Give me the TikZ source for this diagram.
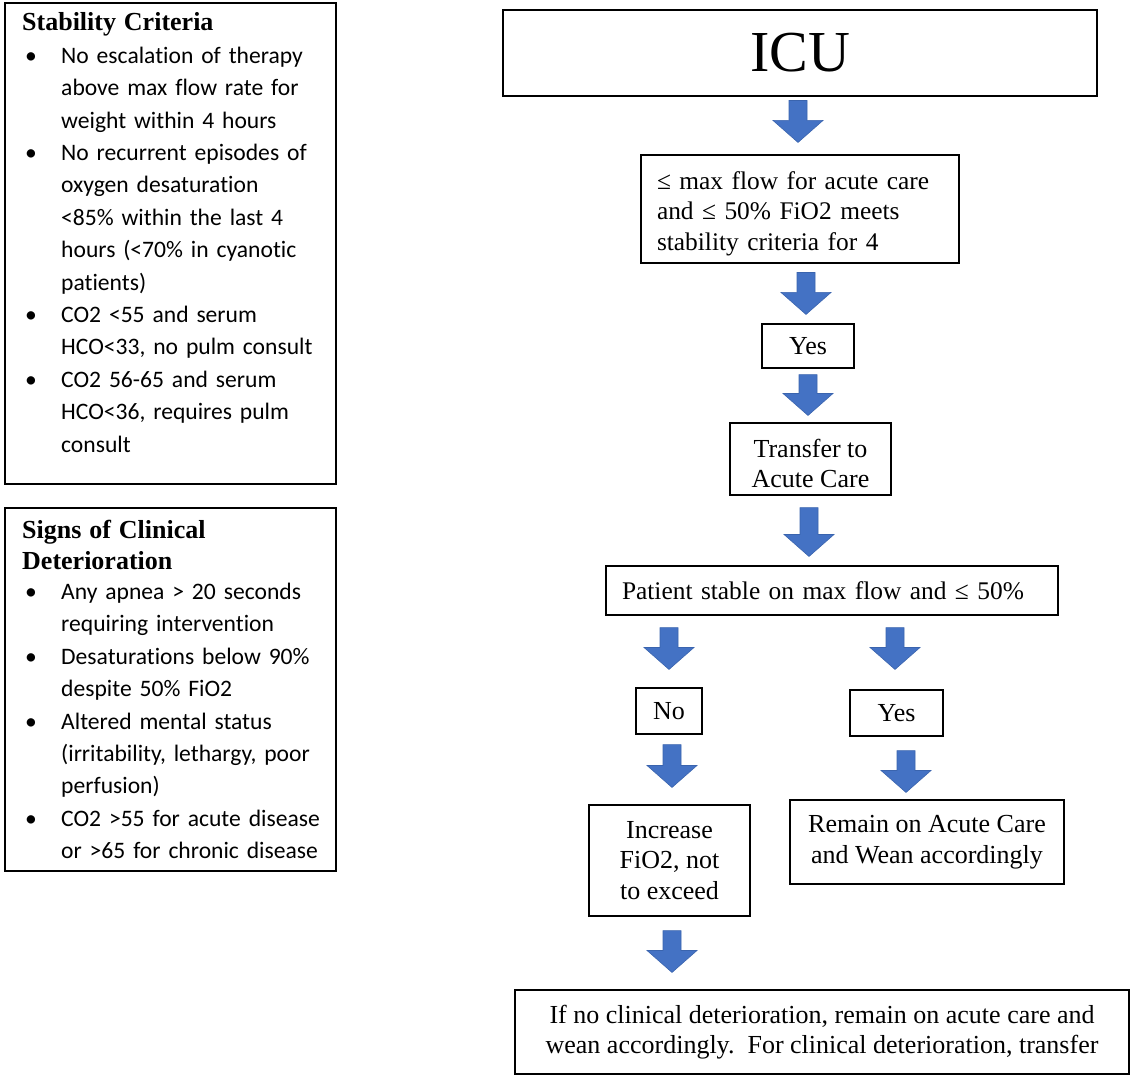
\documentclass[tikz,border=0pt]{standalone}
\usepackage{fontspec}
\setmainfont{Liberation Serif}
\newfontfamily\calfont[Ligatures=NoCommon]{Carlito}
\usetikzlibrary{calc}
\definecolor{arrowblue}{HTML}{4472C4}
\definecolor{arrowedge}{HTML}{3A64AE}
\newcommand\bitem[1]{\par\hangindent=39pt\hangafter=1\noindent\makebox[39pt][l]{\hspace{3pt}•}#1\par}
\newcommand\headfont{\fontsize{26}{31}\selectfont\bfseries\rmfamily}
\newcommand\tallstrut{\rule{0pt}{27pt}}
\begin{document}
\begin{tikzpicture}[x=1pt,y=-1pt,
  box/.style={draw=black, line width=1.1pt, inner sep=0pt, font=\fontsize{26}{30.5}\selectfont, align=center},
  narrowtext/.style={font=\fontsize{25.4}{30.5}\selectfont},
  panel/.style={draw=black, line width=1.1pt, inner sep=0pt},
  paneltext/.style={anchor=base west, inner sep=0pt, text width=310pt, align=left,
    font=\calfont\fontsize{23.6}{32.4}\selectfont},
  barrow/.style={fill=arrowblue, draw=arrowedge, line width=0.6pt, line join=miter,
    to path={let \p1=(\tikztostart), \p2=(\tikztotarget) in
      (\x1-9pt,\y1) -- (\x1+9pt,\y1) -- (\x1+9pt,\y2+22pt) -- (\x1+25pt,\y2+22pt)
      -- (\x1,\y2) -- (\x1-25pt,\y2+22pt) -- (\x1-9pt,\y2+22pt) -- cycle}}]
\useasboundingbox (0,0) rectangle (1130,1075);
\fill[white] (0,0) rectangle (1130,1075);

% left panels
\node[panel, minimum width=331pt, minimum height=481pt] (stab) at (170.5,243.5) {};
\node[paneltext] (stabtxt) at (22,31) {{\headfont Stability Criteria\par}
\bitem{No escalation of therapy\newline above max flow rate for\newline weight within 4 hours}
\bitem{No recurrent episodes of\newline oxygen desaturation\newline <85\% within the last 4\newline hours (<70\% in cyanotic\newline patients)}
\bitem{CO2 <55 and serum\newline HCO<33, no pulm consult}
\bitem{CO2 56-65 and serum\newline HCO<36, requires pulm\newline consult}};

\node[panel, minimum width=331pt, minimum height=363pt] (signs) at (170.5,689.5) {};
\node[paneltext] (signstxt) at (22,538) {{\headfont Signs of Clinical\newline Deterioration\par}\vspace{-2pt}
\bitem{Any apnea > 20 seconds\newline requiring intervention}
\bitem{Desaturations below 90\%\newline despite 50\% FiO2}
\bitem{Altered mental status\newline (irritability, lethargy, poor\newline perfusion)}
\bitem{CO2 >55 for acute disease\newline or >65 for chronic disease}};

% flowchart
\node[box, minimum width=594pt, minimum height=86pt, font=\fontsize{58}{60}\selectfont] (icu) at (800,53) {ICU};
\node[box, narrowtext, text width=286pt, inner xsep=16pt, minimum height=108pt, align=left] (crit) at (800,209)
  {\tallstrut≤ max flow for acute care\\and ≤ 50\% FiO2 meets\\stability criteria for 4};
\node[box, minimum width=92pt, minimum height=44pt] (yes1) at (808,346) {Yes};
\node[box, minimum width=161pt, minimum height=72pt] (transfer) at (810.5,459) {\tallstrut Transfer to\\Acute Care};
\node[box, narrowtext, text width=420pt, inner xsep=16pt, minimum height=49pt, align=left] (patient) at (832,590.5)
  {Patient stable on max flow and ≤ 50\%};
\node[box, minimum width=66pt, minimum height=46pt] (no) at (669,711) {No};
\node[box, minimum width=93pt, minimum height=46pt] (yes2) at (896.5,713) {Yes};
\node[box, minimum width=161pt, minimum height=111pt] (incr) at (669.5,860.5) {Increase\\FiO2, not\\to exceed};
\node[box, minimum width=274pt, minimum height=84pt] (remain) at (927,842) {Remain on Acute Care\\and Wean accordingly};
\node[box, minimum width=614pt, minimum height=84pt] (final) at (822,1032)
  {If no clinical deterioration, remain on acute care and\\wean accordingly.\ \ For clinical deterioration, transfer};

% block arrows
\draw[barrow] ($(icu.south)+(-2,4)$) to ($(crit.north)+(-2,-12)$);
\draw[barrow] ($(crit.south)+(6,9)$) to ($(yes1.north)+(-2,-9)$);
\draw[barrow] ($(yes1.south)+(0,6)$) to ($(transfer.north)+(-2.5,-7)$);
\draw[barrow] ($(transfer.south)+(-1.5,12)$) to ($(patient.north)+(-23,-9)$);
\draw[barrow] ($(patient.south -| no.north)+(0,12)$) to ($(no.north)+(0,-18)$);
\draw[barrow] ($(patient.south -| yes2.north)+(-1.5,12)$) to ($(yes2.north)+(-1.5,-20)$);
\draw[barrow] ($(no.south)+(3,10)$) to ($(incr.north)+(2.5,-17)$);
\draw[barrow] ($(yes2.south)+(9.5,14)$) to ($(remain.north)+(-21,-7)$);
\draw[barrow] ($(incr.south)+(2.5,14)$) to ($(final.north -| incr.south)+(2.5,-17)$);
\end{tikzpicture}
\end{document}
